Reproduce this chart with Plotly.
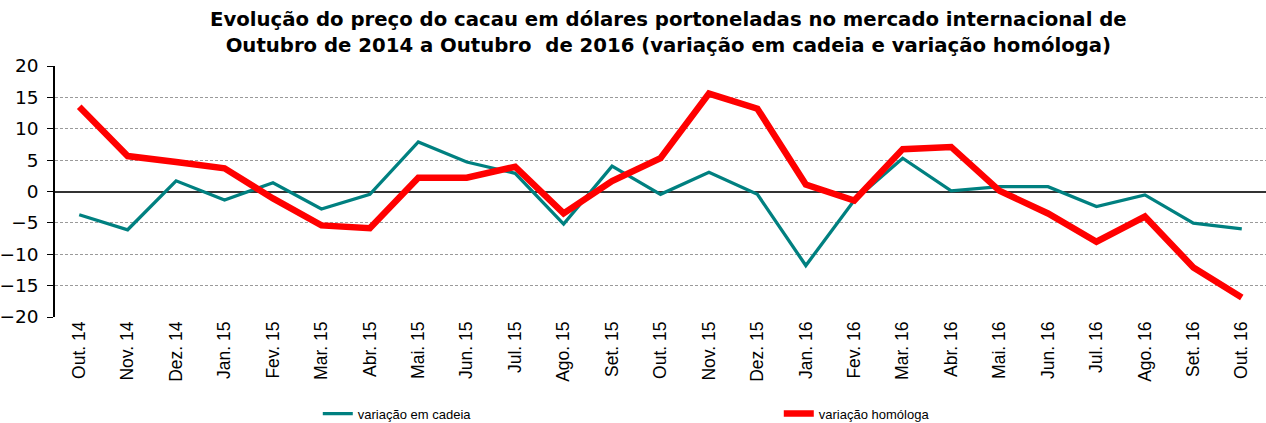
import plotly.graph_objects as go

categories = ["Out. 14", "Nov. 14", "Dez. 14", "Jan. 15", "Fev. 15", "Mar. 15", "Abr. 15",
              "Mai. 15", "Jun. 15", "Jul. 15", "Ago. 15", "Set. 15", "Out. 15", "Nov. 15",
              "Dez. 15", "Jan. 16", "Fev. 16", "Mar. 16", "Abr. 16", "Mai. 16", "Jun. 16",
              "Jul. 16", "Ago. 16", "Set. 16", "Out. 16"]

variacao_cadeia = [-3.7, -6.1, 1.7, -1.35, 1.4, -2.8, -0.45, 7.9, 4.7, 2.9, -5.2, 4.05, -0.45,
                   3.05, -0.45, -11.8, -1.4, 5.3, 0.1, 0.77, 0.77, -2.4, -0.55, -5.06, -5.96]

variacao_homologa = [13.5, 5.65, 4.7, 3.7, -1.1, -5.4, -5.85, 2.2, 2.2, 3.95, -3.5, 1.65, 5.3,
                     15.6, 13.2, 1.1, -1.45, 6.75, 7.1, 0.1, -3.5, -8.0, -4.0, -12.1, -16.9]

y_ticks = [20, 15, 10, 5, 0, -5, -10, -15, -20]

title_text = ("<b>Evolução do preço do cacau em dólares portoneladas no mercado internacional de<br>"
              "Outubro de 2014 a Outubro  de 2016 (variação em cadeia e variação homóloga)</b>")

xs = list(range(len(categories)))

fig = go.Figure()
fig.add_trace(go.Scatter(x=xs, y=variacao_cadeia, mode="lines", name="variação em cadeia",
                         line=dict(color="#008080", width=3.3)))
fig.add_trace(go.Scatter(x=xs, y=variacao_homologa, mode="lines", name="variação homóloga",
                         line=dict(color="#FF0000", width=6.5)))

fig.add_annotation(
    text=title_text, xref="paper", yref="paper", x=0.507, y=1.1315,
    xanchor="center", yanchor="middle", showarrow=False, align="center",
    font=dict(size=19.7, family="DejaVu Sans, sans-serif", color="black"),
)

fig.update_layout(
    width=1266, height=423,
    margin=dict(l=55, r=0, t=66, b=106, autoexpand=False),
    paper_bgcolor="white", plot_bgcolor="white",
    font=dict(family="Liberation Sans, Arial, sans-serif", color="black"),
    showlegend=True,
    legend=dict(orientation="h", x=0.217, xanchor="left", y=-0.325, yanchor="top",
                font=dict(size=13), entrywidth=416, entrywidthmode="pixels",
                bgcolor="rgba(0,0,0,0)"),
    xaxis=dict(
        range=[-0.5, len(categories) - 0.5],
        tickmode="array", tickvals=xs, ticktext=categories,
        tickangle=-90, ticks="", showgrid=False, zeroline=False, showline=False,
        tickfont=dict(size=17.5), automargin=False,
    ),
    xaxis2=dict(
        overlaying="x", anchor="free", position=0.5,
        range=[-0.5, len(categories) - 0.5],
        tickmode="array", tickvals=[i + 0.5 for i in xs[:-1]],
        ticks="outside", ticklen=6, tickcolor="#222", tickwidth=1.5,
        showticklabels=False, showgrid=False, zeroline=False, showline=False,
    ),
    yaxis=dict(
        range=[-20, 20], tickmode="array", tickvals=y_ticks,
        showgrid=True, gridcolor="#9a9a9a", griddash="3px,2px", gridwidth=1,
        zeroline=True, zerolinecolor="#333", zerolinewidth=1.5,
        showline=True, linecolor="black", linewidth=1.5,
        ticks="outside", ticklen=6, tickcolor="black", ticklabelstandoff=5,
        tickfont=dict(size=18.5, family="DejaVu Sans, sans-serif"), automargin=False,
    ),
)

fig.write_html("out.html", config={"displayModeBar": False},
               post_script="document.body.style.margin='0';")
